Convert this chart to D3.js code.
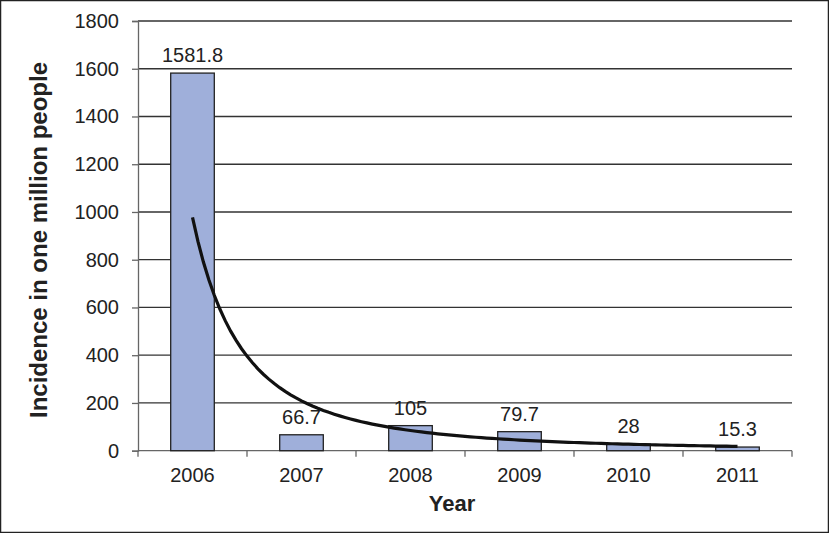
<!DOCTYPE html>
<html>
<head>
<meta charset="utf-8">
<script src="https://cdn.jsdelivr.net/npm/d3@7"></script>
<style>
  body { margin: 0; background: #fff; }
  text { font-family: "Liberation Sans", Arial, sans-serif; fill: #222; }
</style>
</head>
<body>
<div id="chart"></div>
<script>
// data
var years = ["2006", "2007", "2008", "2009", "2010", "2011"];
var incidence = [1581.8, 66.7, 105, 79.7, 28, 15.3];
var valueLabels = ["1581.8", "66.7", "105", "79.7", "28", "15.3"];
var yTicks = [0, 200, 400, 600, 800, 1000, 1200, 1400, 1600, 1800];

var W = 829, H = 533;
var margin = {top: 21, left: 138},
    width = 792 - margin.left,
    height = 450.7 - margin.top;

var svg = d3.select("#chart")
  .append("svg")
    .attr("width", W)
    .attr("height", H);

// outer frame
svg.append("rect")
  .attr("x", 0.5).attr("y", 0.5)
  .attr("width", W - 1).attr("height", H - 1)
  .attr("fill", "none")
  .attr("stroke", "#222")
  .attr("stroke-width", 1.5);

var g = svg.append("g")
  .attr("transform", "translate(" + margin.left + "," + margin.top + ")");

var x = d3.scaleBand()
  .domain(years)
  .range([0, width])
  .paddingInner(0.6)
  .paddingOuter(0.3);

// band boundaries for the tick marks (between categories)
var xb = d3.scaleBand().domain(years).range([0, width]);

var y = d3.scaleLinear()
  .domain([0, 1800])
  .range([height, 0]);

// gridlines
g.append("g")
  .selectAll("line")
  .data(yTicks.slice(1))
  .enter().append("line")
    .attr("x1", 0).attr("x2", width)
    .attr("y1", function(d) { return y(d); })
    .attr("y2", function(d) { return y(d); })
    .attr("stroke", "#333")
    .attr("stroke-width", 1.3);

// Y axis
var yAxis = g.append("g")
  .call(d3.axisLeft(y).tickValues(yTicks).tickFormat(d3.format("d")).tickSize(6).tickPadding(13));
yAxis.select(".domain").attr("stroke", "#666").attr("stroke-width", 1.3);
yAxis.selectAll(".tick line").attr("stroke", "#666").attr("stroke-width", 1.3);
yAxis.selectAll("text").style("font-size", "20px").attr("fill", "#222");

// X axis line and ticks
var xAxisG = g.append("g")
  .attr("transform", "translate(0," + height + ")");
xAxisG.append("line")
  .attr("x1", 0).attr("x2", width)
  .attr("stroke", "#666").attr("stroke-width", 1.3);
xAxisG.selectAll(".xt")
  .data(years.concat(["end"]))
  .enter().append("line")
    .attr("class", "xt")
    .attr("x1", function(d, i) { return i < years.length ? xb(d) : width; })
    .attr("x2", function(d, i) { return i < years.length ? xb(d) : width; })
    .attr("y1", 0).attr("y2", 6)
    .attr("stroke", "#666").attr("stroke-width", 1.3);
xAxisG.selectAll(".xl")
  .data(years)
  .enter().append("text")
    .attr("class", "xl")
    .attr("x", function(d) { return x(d) + x.bandwidth() / 2; })
    .attr("y", 31)
    .attr("text-anchor", "middle")
    .style("font-size", "20px")
    .text(function(d) { return d; });

// bars
g.selectAll(".bar")
  .data(incidence)
  .enter().append("rect")
    .attr("class", "bar")
    .attr("x", function(d, i) { return x(years[i]); })
    .attr("y", function(d) { return y(d); })
    .attr("width", x.bandwidth())
    .attr("height", function(d) { return height - y(d); })
    .attr("fill", "#9fafda")
    .attr("stroke", "#222")
    .attr("stroke-width", 1.3);

// value labels
g.selectAll(".val")
  .data(incidence)
  .enter().append("text")
    .attr("class", "val")
    .attr("x", function(d, i) { return x(years[i]) + x.bandwidth() / 2; })
    .attr("y", function(d) { return y(d) - 11; })
    .attr("text-anchor", "middle")
    .style("font-size", "20px")
    .text(function(d, i) { return valueLabels[i]; });

// power trendline y = a * x^b fitted to the bars (as the spreadsheet does)
var lx = incidence.map(function(d, i) { return Math.log(i + 1); });
var ly = incidence.map(function(d) { return Math.log(d); });
var mx = d3.mean(lx), my = d3.mean(ly);
var b = d3.sum(lx, function(v, i) { return (v - mx) * (ly[i] - my); }) /
        d3.sum(lx, function(v) { return (v - mx) * (v - mx); });
var a = Math.exp(my - b * mx);

var xi = d3.scaleLinear().domain([1, years.length])
  .range([x(years[0]) + x.bandwidth() / 2, x(years[years.length - 1]) + x.bandwidth() / 2]);
var trend = d3.range(1, years.length + 0.001, 0.05).map(function(t) { return [t, a * Math.pow(t, b)]; });

g.append("path")
  .datum(trend)
  .attr("fill", "none")
  .attr("stroke", "#111")
  .attr("stroke-width", 3.2)
  .attr("d", d3.line()
    .x(function(d) { return xi(d[0]); })
    .y(function(d) { return y(d[1]); }));

// axis titles
svg.append("text")
  .attr("transform", "translate(47,240) rotate(-90)")
  .attr("text-anchor", "middle")
  .style("font-size", "24px")
  .style("font-weight", "bold")
  .text("Incidence in one million people");

svg.append("text")
  .attr("x", 452)
  .attr("y", 511)
  .attr("text-anchor", "middle")
  .style("font-size", "22px")
  .style("font-weight", "bold")
  .text("Year");
</script>
</body>
</html>
